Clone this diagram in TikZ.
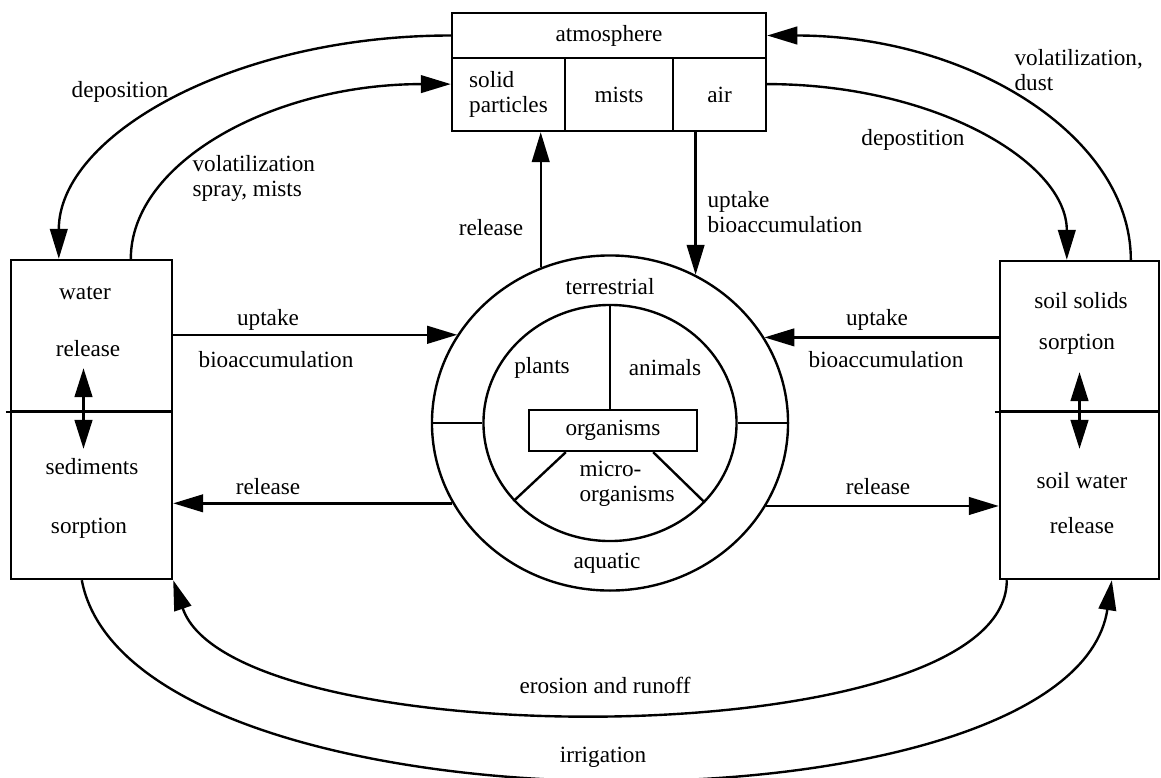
\documentclass[tikz,border=0pt]{standalone}
\usepackage{fontspec}
\setmainfont{Liberation Serif}
\usetikzlibrary{arrows.meta,shapes.geometric}

\begin{document}
\begin{tikzpicture}[x=0.025cm, y=-0.025cm, line width=1.7pt,
	font=\fontsize{16.5pt}{17.8pt}\selectfont,
	cell/.style={draw, rectangle, inner sep=0pt, align=left},
	ring/.style={draw, ellipse, inner sep=0pt},
	lbl/.style={inner sep=1pt},
	arr/.style={-{Triangle[length=0.75cm,width=0.44cm]}},
	dblarr/.style={{Triangle[length=0.72cm,width=0.44cm]}-{Triangle[length=0.72cm,width=0.44cm]}}]
	\useasboundingbox (0,0) rectangle (1161,777);

	\node[cell, minimum width=7.85cm, minimum height=1.125cm] (atm) at (609,35.5) {atmosphere};%Atmosphaere
	\node[cell, minimum width=2.825cm, minimum height=1.825cm] (solid) at (508.5,94.5) {solid\\particles};
	\node[cell, minimum width=2.7cm, minimum height=1.825cm] (mists) at (619,94.5) {mists};
	\node[cell, minimum width=2.325cm, minimum height=1.825cm] (air) at (719.5,94.5) {air};

	\node[cell, minimum width=4.025cm, minimum height=3.775cm] (wtop) at (91.5,335.5) {};%Wasser
	\node[cell, minimum width=4.025cm, minimum height=4.2cm] (wbot) at (91.5,495) {};
	\draw ([xshift=-0.1cm]wtop.south west) -- (wtop.south east);
	\node[lbl] (wwat) at (85,293) {water};
	\node[lbl] (wrel) at (88,349) {release};
	\node[lbl] (wsed) at (92,467) {sediments};
	\node[lbl] (wsorp) at (89,528) {sorption};
	\draw[dblarr] ([xshift=-0.2cm,yshift=1.1cm]wtop.south) -- ([xshift=-0.2cm,yshift=-0.975cm]wbot.north);

	\node[cell, minimum width=3.975cm, minimum height=3.75cm] (stop) at (1079.5,336) {};%Boden
	\node[cell, minimum width=3.975cm, minimum height=4.2cm] (sbot) at (1079.5,495) {};
	\draw ([xshift=-0.1cm]stop.south west) -- (stop.south east);
	\node[lbl] (ssol) at (1081,301) {soil solids};
	\node[lbl] (ssorp) at (1077,344) {sorption};
	\node[lbl] (swat) at (1082,481) {soil water};
	\node[lbl] (srel) at (1082,526) {release};
	\draw[dblarr] ([yshift=1.0cm]stop.south) -- ([yshift=-0.975cm]sbot.north);

	\node[ring, minimum width=8.9cm, minimum height=8.375cm] (outer) at (610,423) {};%Organismen
	\node[ring, minimum width=6.325cm, minimum height=5.9cm] (inner) at (610,423) {};
	\node[cell, minimum width=4.2cm, minimum height=1.025cm] (org) at (613,430.5) {organisms};
	\draw (outer.west) -- (inner.west);
	\draw (inner.east) -- (outer.east);
	\draw (inner.north) -- (inner.north |- org.north);
	\draw ([xshift=0.95cm]org.south west) -- (inner.219.9);
	\draw ([xshift=-1.125cm]org.south east) -- (inner.320.3);
	\node[lbl] (terr) at (610,287) {terrestrial};
	\node[lbl] (plants) at (542,368) {plants};
	\node[lbl] (animals) at (665,368) {animals};
	\node[lbl, align=left, anchor=west] (micro) at (577,484) {micro-\\organisms};
	\node[lbl] (aqua) at (607,563) {aquatic};

	\draw[arr] (outer.114.8) -- (outer.114.8 |- solid.south);
	\draw[arr] (air.south -| outer.60.4) -- (outer.60.4);
	\draw[arr] (outer.150.6 -| wtop.east) -- (outer.150.6);
	\draw[arr] (outer.29.4 -| stop.west) -- (outer.29.4);
	\draw[arr] (outer.207.5) -- (outer.207.5 -| wbot.east);
	\draw[arr] (outer.332.5) -- (outer.332.5 -| sbot.west);

	\draw[arr] (atm.west) .. controls +(-216,0) and +(0,-124) .. ([xshift=1.225cm]wtop.north west);%deposition
	\draw[arr] ([xshift=3.025cm]wtop.north west) .. controls +(0,-97) and +(-177,0) .. ([yshift=0.26cm]solid.west);
	\draw[arr] ([xshift=3.3cm]stop.north west) .. controls +(0,-124) and +(202,0) .. (atm.east);
	\draw[arr] ([yshift=0.26cm]air.east) .. controls +(167,0) and +(0,-98) .. ([xshift=1.7cm]stop.north west);
	\draw[arr] ([xshift=0.2cm]sbot.south west) .. controls +(0,177) and +(60,177) .. (wbot.south east);%erosion
	\draw[arr] ([xshift=1.8cm]wbot.south west) .. controls +(50,263) and +(-40,263) .. ([xshift=2.825cm]sbot.south west);%irrigation

	\node[lbl] (tdep) at (120,92) {deposition};
	\node[lbl, align=left, anchor=west] (tspray) at (190,178) {volatilization\\spray, mists};
	\node[lbl, align=left, anchor=west] (tdust) at (1012,70) {volatilization,\\dust};
	\node[lbl] (tdepo) at (913,140) {depostition};
	\node[lbl] (trel) at (491,228) {release};
	\node[lbl, align=left, anchor=west] (tup) at (705,212) {uptake\\bioaccumulation};
	\node[lbl] (tupl) at (268,320) {uptake};
	\node[lbl] (tbiol) at (276,360) {bioaccumulation};
	\node[lbl] (tupr) at (877,320) {uptake};
	\node[lbl] (tbior) at (886,360) {bioaccumulation};
	\node[lbl] (trell) at (268,487) {release};
	\node[lbl] (trelr) at (878,487) {release};
	\node[lbl] (tero) at (605,685) {erosion and runoff};
	\node[lbl] (tirr) at (603,757) {irrigation};

\end{tikzpicture}
\end{document}
